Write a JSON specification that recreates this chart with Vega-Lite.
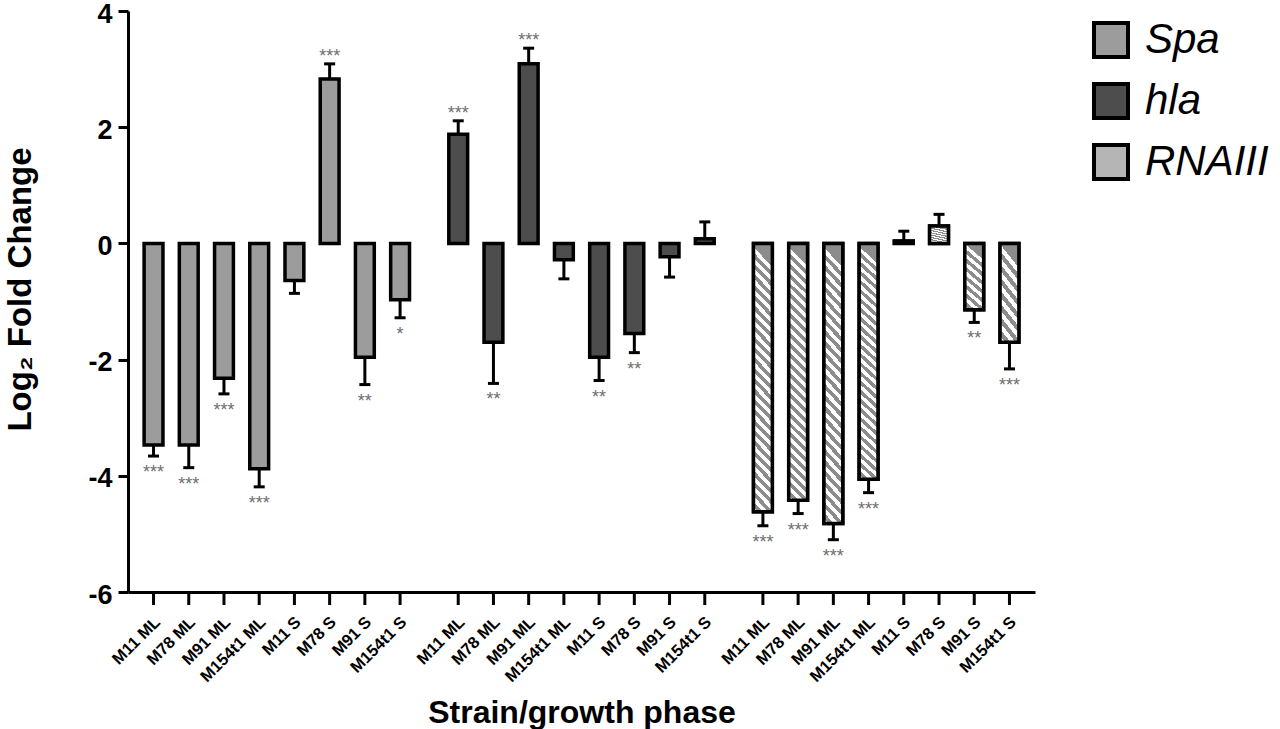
{
  "$schema": "https://vega.github.io/schema/vega-lite/v6.json",
  "width": 907,
  "height": 581,
  "autosize": "none",
  "padding": {"left": 128, "top": 11, "right": 245, "bottom": 137},
  "background": "#ffffff",
  "config": {
    "font": "Liberation Sans",
    "view": {"stroke": null},
    "axis": {
      "domainColor": "#000000",
      "domainWidth": 3,
      "tickColor": "#000000",
      "tickWidth": 3,
      "grid": false,
      "labelFont": "Liberation Sans",
      "labelColor": "#000000",
      "titleFont": "Liberation Sans",
      "titleColor": "#000000",
      "titleFontWeight": "bold",
      "titleFontSize": 32
    }
  },
  "data": {
    "values": [
      {"gene": "Spa", "strain": "M11 ML", "value": -3.47, "err": -3.66, "sig": "***"},
      {"gene": "Spa", "strain": "M78 ML", "value": -3.47, "err": -3.86, "sig": "***"},
      {"gene": "Spa", "strain": "M91 ML", "value": -2.32, "err": -2.59, "sig": "***"},
      {"gene": "Spa", "strain": "M154t1 ML", "value": -3.88, "err": -4.19, "sig": "***"},
      {"gene": "Spa", "strain": "M11 S", "value": -0.64, "err": -0.86, "sig": ""},
      {"gene": "Spa", "strain": "M78 S", "value": 2.83, "err": 3.09, "sig": "***"},
      {"gene": "Spa", "strain": "M91 S", "value": -1.96, "err": -2.43, "sig": "**"},
      {"gene": "Spa", "strain": "M154t1 S", "value": -0.97, "err": -1.28, "sig": "*"},
      {"gene": "hla", "strain": "M11 ML", "value": 1.88, "err": 2.11, "sig": "***"},
      {"gene": "hla", "strain": "M78 ML", "value": -1.7, "err": -2.41, "sig": "**"},
      {"gene": "hla", "strain": "M91 ML", "value": 3.09, "err": 3.36, "sig": "***"},
      {"gene": "hla", "strain": "M154t1 ML", "value": -0.28, "err": -0.61, "sig": ""},
      {"gene": "hla", "strain": "M11 S", "value": -1.96, "err": -2.36, "sig": "**"},
      {"gene": "hla", "strain": "M78 S", "value": -1.55, "err": -1.88, "sig": "**"},
      {"gene": "hla", "strain": "M91 S", "value": -0.23, "err": -0.58, "sig": ""},
      {"gene": "hla", "strain": "M154t1 S", "value": 0.08, "err": 0.37, "sig": ""},
      {"gene": "RNAIII", "strain": "M11 ML", "value": -4.62, "err": -4.86, "sig": "***"},
      {"gene": "RNAIII", "strain": "M78 ML", "value": -4.42, "err": -4.65, "sig": "***"},
      {"gene": "RNAIII", "strain": "M91 ML", "value": -4.82, "err": -5.1, "sig": "***"},
      {"gene": "RNAIII", "strain": "M154t1 ML", "value": -4.06, "err": -4.29, "sig": "***"},
      {"gene": "RNAIII", "strain": "M11 S", "value": 0.04, "err": 0.21, "sig": ""},
      {"gene": "RNAIII", "strain": "M78 S", "value": 0.3, "err": 0.5, "sig": ""},
      {"gene": "RNAIII", "strain": "M91 S", "value": -1.14, "err": -1.36, "sig": "**"},
      {"gene": "RNAIII", "strain": "M154t1 S", "value": -1.7, "err": -2.16, "sig": "***"}
    ]
  },
  "encoding": {
    "x": {
      "field": "gene",
      "type": "nominal",
      "sort": ["Spa", "hla", "RNAIII"],
      "scale": {"paddingInner": 0.0752, "paddingOuter": 0.026},
      "axis": {"title": "Strain/growth phase", "labels": false, "ticks": false, "titlePadding": 105}
    },
    "xOffset": {
      "field": "strain",
      "type": "nominal",
      "sort": ["M11 ML", "M78 ML", "M91 ML", "M154t1 ML", "M11 S", "M78 S", "M91 S", "M154t1 S"],
      "scale": {"paddingInner": 0.465, "paddingOuter": 0.2325}
    }
  },
  "layer": [
    {
      "mark": {"type": "rule", "strokeWidth": 3, "color": "#000000"},
      "encoding": {
        "y": {
          "field": "value",
          "type": "quantitative",
          "scale": {"domain": [-6, 4], "nice": false},
          "axis": {
            "title": "Log₂ Fold Change",
            "titleFontSize": 33,
            "titleY": 278,
            "values": [-6, -4, -2, 0, 2, 4],
            "labelExpr": "toString(datum.value)",
            "labelFontSize": 27,
            "labelFontWeight": "bold",
            "labelPadding": 6,
            "labelOffset": 3,
            "tickSize": 10,
            "titlePadding": 50
          }
        },
        "y2": {"field": "err"}
      }
    },
    {
      "mark": {"type": "tick", "orient": "horizontal", "size": 11, "thickness": 3, "color": "#000000", "opacity": 1},
      "encoding": {"y": {"field": "err", "type": "quantitative"}}
    },
    {
      "mark": {"type": "bar", "stroke": "#000000", "strokeWidth": 3.5, "fillOpacity": 1},
      "encoding": {
        "y": {"field": "value", "type": "quantitative"},
        "y2": {"datum": 0},
        "fill": {
          "field": "gene",
          "type": "nominal",
          "scale": {"domain": ["Spa", "hla", "RNAIII"], "range": ["#9c9c9c", "#4d4d4d", "#b5b5b5"]},
          "legend": {
            "title": null,
            "orient": "none",
            "legendX": 962,
            "legendY": 8,
            "padding": 0,
            "symbolType": "square",
            "symbolSize": 1156,
            "symbolStrokeColor": "#000000",
            "symbolStrokeWidth": 4,
            "symbolOpacity": 1,
            "labelFont": "Liberation Sans",
            "labelFontStyle": "italic",
            "labelFontSize": 42,
            "labelColor": "#000000",
            "labelOffset": 13,
            "rowPadding": 11
          }
        }
      }
    },
    {
      "transform": [{"filter": "datum.gene === 'RNAIII' && datum.value < -3"}],
      "mark": {
        "type": "bar",
        "stroke": "#000000",
        "strokeWidth": 3.5,
        "fill": {
          "gradient": "linear", "x1": 0.073, "y1": 0, "x2": 0, "y2": 1,
          "stops": [
            {"offset": 0, "color": "#8c8c8c"}, {"offset": 0.0192, "color": "#8c8c8c"},
            {"offset": 0.0192, "color": "#ffffff"}, {"offset": 0.0385, "color": "#ffffff"},
            {"offset": 0.0385, "color": "#8c8c8c"}, {"offset": 0.0577, "color": "#8c8c8c"},
            {"offset": 0.0577, "color": "#ffffff"}, {"offset": 0.0769, "color": "#ffffff"},
            {"offset": 0.0769, "color": "#8c8c8c"}, {"offset": 0.0962, "color": "#8c8c8c"},
            {"offset": 0.0962, "color": "#ffffff"}, {"offset": 0.1154, "color": "#ffffff"},
            {"offset": 0.1154, "color": "#8c8c8c"}, {"offset": 0.1346, "color": "#8c8c8c"},
            {"offset": 0.1346, "color": "#ffffff"}, {"offset": 0.1538, "color": "#ffffff"},
            {"offset": 0.1538, "color": "#8c8c8c"}, {"offset": 0.1731, "color": "#8c8c8c"},
            {"offset": 0.1731, "color": "#ffffff"}, {"offset": 0.1923, "color": "#ffffff"},
            {"offset": 0.1923, "color": "#8c8c8c"}, {"offset": 0.2115, "color": "#8c8c8c"},
            {"offset": 0.2115, "color": "#ffffff"}, {"offset": 0.2308, "color": "#ffffff"},
            {"offset": 0.2308, "color": "#8c8c8c"}, {"offset": 0.25, "color": "#8c8c8c"},
            {"offset": 0.25, "color": "#ffffff"}, {"offset": 0.2692, "color": "#ffffff"},
            {"offset": 0.2692, "color": "#8c8c8c"}, {"offset": 0.2885, "color": "#8c8c8c"},
            {"offset": 0.2885, "color": "#ffffff"}, {"offset": 0.3077, "color": "#ffffff"},
            {"offset": 0.3077, "color": "#8c8c8c"}, {"offset": 0.3269, "color": "#8c8c8c"},
            {"offset": 0.3269, "color": "#ffffff"}, {"offset": 0.3462, "color": "#ffffff"},
            {"offset": 0.3462, "color": "#8c8c8c"}, {"offset": 0.3654, "color": "#8c8c8c"},
            {"offset": 0.3654, "color": "#ffffff"}, {"offset": 0.3846, "color": "#ffffff"},
            {"offset": 0.3846, "color": "#8c8c8c"}, {"offset": 0.4038, "color": "#8c8c8c"},
            {"offset": 0.4038, "color": "#ffffff"}, {"offset": 0.4231, "color": "#ffffff"},
            {"offset": 0.4231, "color": "#8c8c8c"}, {"offset": 0.4423, "color": "#8c8c8c"},
            {"offset": 0.4423, "color": "#ffffff"}, {"offset": 0.4615, "color": "#ffffff"},
            {"offset": 0.4615, "color": "#8c8c8c"}, {"offset": 0.4808, "color": "#8c8c8c"},
            {"offset": 0.4808, "color": "#ffffff"}, {"offset": 0.5, "color": "#ffffff"},
            {"offset": 0.5, "color": "#8c8c8c"}, {"offset": 0.5192, "color": "#8c8c8c"},
            {"offset": 0.5192, "color": "#ffffff"}, {"offset": 0.5385, "color": "#ffffff"},
            {"offset": 0.5385, "color": "#8c8c8c"}, {"offset": 0.5577, "color": "#8c8c8c"},
            {"offset": 0.5577, "color": "#ffffff"}, {"offset": 0.5769, "color": "#ffffff"},
            {"offset": 0.5769, "color": "#8c8c8c"}, {"offset": 0.5962, "color": "#8c8c8c"},
            {"offset": 0.5962, "color": "#ffffff"}, {"offset": 0.6154, "color": "#ffffff"},
            {"offset": 0.6154, "color": "#8c8c8c"}, {"offset": 0.6346, "color": "#8c8c8c"},
            {"offset": 0.6346, "color": "#ffffff"}, {"offset": 0.6538, "color": "#ffffff"},
            {"offset": 0.6538, "color": "#8c8c8c"}, {"offset": 0.6731, "color": "#8c8c8c"},
            {"offset": 0.6731, "color": "#ffffff"}, {"offset": 0.6923, "color": "#ffffff"},
            {"offset": 0.6923, "color": "#8c8c8c"}, {"offset": 0.7115, "color": "#8c8c8c"},
            {"offset": 0.7115, "color": "#ffffff"}, {"offset": 0.7308, "color": "#ffffff"},
            {"offset": 0.7308, "color": "#8c8c8c"}, {"offset": 0.75, "color": "#8c8c8c"},
            {"offset": 0.75, "color": "#ffffff"}, {"offset": 0.7692, "color": "#ffffff"},
            {"offset": 0.7692, "color": "#8c8c8c"}, {"offset": 0.7885, "color": "#8c8c8c"},
            {"offset": 0.7885, "color": "#ffffff"}, {"offset": 0.8077, "color": "#ffffff"},
            {"offset": 0.8077, "color": "#8c8c8c"}, {"offset": 0.8269, "color": "#8c8c8c"},
            {"offset": 0.8269, "color": "#ffffff"}, {"offset": 0.8462, "color": "#ffffff"},
            {"offset": 0.8462, "color": "#8c8c8c"}, {"offset": 0.8654, "color": "#8c8c8c"},
            {"offset": 0.8654, "color": "#ffffff"}, {"offset": 0.8846, "color": "#ffffff"},
            {"offset": 0.8846, "color": "#8c8c8c"}, {"offset": 0.9038, "color": "#8c8c8c"},
            {"offset": 0.9038, "color": "#ffffff"}, {"offset": 0.9231, "color": "#ffffff"},
            {"offset": 0.9231, "color": "#8c8c8c"}, {"offset": 0.9423, "color": "#8c8c8c"},
            {"offset": 0.9423, "color": "#ffffff"}, {"offset": 0.9615, "color": "#ffffff"},
            {"offset": 0.9615, "color": "#8c8c8c"}, {"offset": 0.9808, "color": "#8c8c8c"},
            {"offset": 0.9808, "color": "#ffffff"}, {"offset": 1, "color": "#ffffff"}
          ]
        }
      },
      "encoding": {
        "y": {"field": "value", "type": "quantitative"},
        "y2": {"datum": 0}
      }
    },
    {
      "transform": [{"filter": "datum.gene === 'RNAIII' && datum.value >= -3"}],
      "mark": {
        "type": "bar",
        "stroke": "#000000",
        "strokeWidth": 3.5,
        "fill": {
          "gradient": "linear", "x1": 0.24, "y1": 0, "x2": 0, "y2": 1,
          "stops": [
            {"offset": 0, "color": "#8c8c8c"}, {"offset": 0.0625, "color": "#8c8c8c"},
            {"offset": 0.0625, "color": "#ffffff"}, {"offset": 0.125, "color": "#ffffff"},
            {"offset": 0.125, "color": "#8c8c8c"}, {"offset": 0.1875, "color": "#8c8c8c"},
            {"offset": 0.1875, "color": "#ffffff"}, {"offset": 0.25, "color": "#ffffff"},
            {"offset": 0.25, "color": "#8c8c8c"}, {"offset": 0.3125, "color": "#8c8c8c"},
            {"offset": 0.3125, "color": "#ffffff"}, {"offset": 0.375, "color": "#ffffff"},
            {"offset": 0.375, "color": "#8c8c8c"}, {"offset": 0.4375, "color": "#8c8c8c"},
            {"offset": 0.4375, "color": "#ffffff"}, {"offset": 0.5, "color": "#ffffff"},
            {"offset": 0.5, "color": "#8c8c8c"}, {"offset": 0.5625, "color": "#8c8c8c"},
            {"offset": 0.5625, "color": "#ffffff"}, {"offset": 0.625, "color": "#ffffff"},
            {"offset": 0.625, "color": "#8c8c8c"}, {"offset": 0.6875, "color": "#8c8c8c"},
            {"offset": 0.6875, "color": "#ffffff"}, {"offset": 0.75, "color": "#ffffff"},
            {"offset": 0.75, "color": "#8c8c8c"}, {"offset": 0.8125, "color": "#8c8c8c"},
            {"offset": 0.8125, "color": "#ffffff"}, {"offset": 0.875, "color": "#ffffff"},
            {"offset": 0.875, "color": "#8c8c8c"}, {"offset": 0.9375, "color": "#8c8c8c"},
            {"offset": 0.9375, "color": "#ffffff"}, {"offset": 1, "color": "#ffffff"}
          ]
        }
      },
      "encoding": {
        "y": {"field": "value", "type": "quantitative"},
        "y2": {"datum": 0}
      }
    },
    {
      "mark": {"type": "rule", "strokeWidth": 3, "color": "#000000"},
      "encoding": {"y": {"datum": 0}}
    },
    {
      "transform": [{"filter": "datum.sig !== '' && datum.value < 0"}],
      "mark": {"type": "text", "fontSize": 18, "color": "#6e6e6e", "align": "center", "baseline": "alphabetic", "dy": 22},
      "encoding": {"y": {"field": "err", "type": "quantitative"}, "text": {"field": "sig"}}
    },
    {
      "transform": [{"filter": "datum.sig !== '' && datum.value > 0"}],
      "mark": {"type": "text", "fontSize": 18, "color": "#6e6e6e", "align": "center", "baseline": "alphabetic", "dy": -2},
      "encoding": {"y": {"field": "err", "type": "quantitative"}, "text": {"field": "sig"}}
    },
    {
      "mark": {"type": "tick", "orient": "vertical", "size": 13, "thickness": 3, "color": "#000000", "opacity": 1, "yOffset": 6.5},
      "encoding": {"y": {"datum": -6}}
    },
    {
      "mark": {"type": "text", "angle": 315, "align": "right", "baseline": "middle", "fontSize": 16.5, "fontWeight": "bold", "color": "#000000", "radius": 28, "theta": 3.0},
      "encoding": {"y": {"datum": -6}, "text": {"field": "strain"}}
    }
  ]
}
